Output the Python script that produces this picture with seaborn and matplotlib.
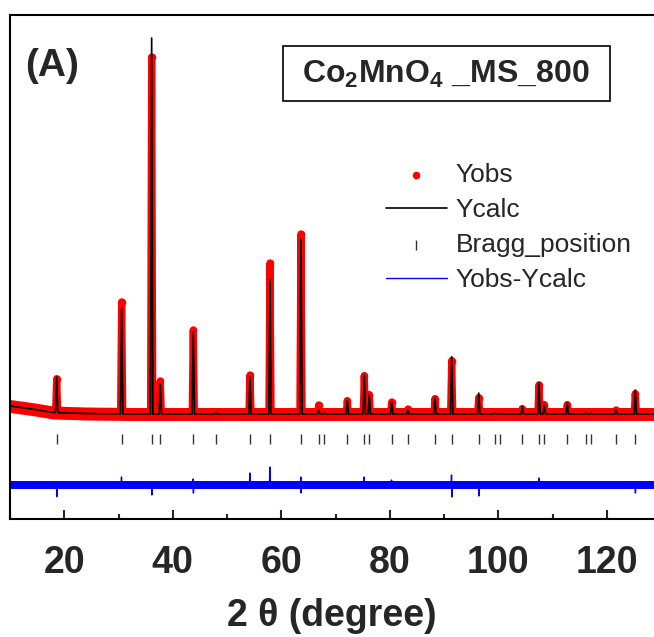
import numpy as np
import pandas as pd
import matplotlib
matplotlib.use("Agg")
import matplotlib.pyplot as plt
from matplotlib.patches import Rectangle
from matplotlib.ticker import MultipleLocator
import seaborn as sns

# Bragg reflections of Co2MnO4 (2 theta, degree)
bragg_pos = [18.60, 30.58, 36.11, 37.70, 43.78, 47.96, 54.23, 57.92, 63.63, 66.89,
             67.93, 72.17, 75.30, 76.22, 80.35, 83.35, 88.33, 91.41, 96.39, 99.34,
             100.26, 104.42, 107.50, 108.48, 112.72, 116.11, 117.14, 121.70, 125.25]
# peak heights above background (counts)
ycalc_peak = [714, 2114, 7520, 600, 1646, 26, 746, 2680, 3494, 80,
              20, 280, 780, 380, 246, 80, 320, 1146, 420, 20,
              20, 146, 620, 180, 220, 20, 20, 80, 480]
yobs_peak = [680, 2240, 7140, 660, 1680, 40, 780, 3020, 3600, 180,
             20, 270, 770, 390, 240, 100, 310, 1070, 330, 20,
             20, 110, 584, 190, 190, 20, 20, 80, 410]

# background
bg_x = [10, 14, 18, 24, 32, 130]
bg_y = [160, 100, 30, 10, 0, 0]
obs_noise = 130

# difference curve spikes
diff_pos = [18.60, 30.58, 36.11, 43.78, 54.23, 57.92, 63.63, 75.30, 80.35, 91.41,
            96.39, 107.50, 125.25]
diff_up = [0, 160, 0, 120, 240, 360, 160, 160, 100, 200, 0, 140, 0]
diff_down = [-234, 0, -200, -160, 0, 0, -160, 0, 0, -240, -220, 0, -160]
diff_offset = -1420
diff_noise = 150
bragg_level = -490

sns.set_theme(style="ticks")
plt.rcParams["font.family"] = ["Liberation Sans", "DejaVu Sans"]
plt.rcParams["mathtext.fontset"] = "custom"
plt.rcParams["mathtext.rm"] = "Liberation Sans"
plt.rcParams["mathtext.bf"] = "Liberation Sans:bold"


def profile(peaks, half):
    xs = list(bg_x)
    ys = list(bg_y)
    for p, h in zip(bragg_pos, peaks):
        for dx, f in [(-half, 0), (0, 1), (half, 0)]:
            xs.append(p + dx)
            ys.append(np.interp(p + dx, bg_x, bg_y) + f * h)
    order = np.argsort(xs)
    return np.array(xs)[order], np.array(ys)[order]


calc_x, calc_y = profile(ycalc_peak, 0.22)
obs_x, obs_y = profile(yobs_peak, 0.2)

dx_list = [10.0]
dy_list = [0.0]
for p, u, d in zip(diff_pos, diff_up, diff_down):
    dx_list += [p - 0.1, p - 0.03, p + 0.03, p + 0.1]
    dy_list += [0, u, d, 0]
dx_list.append(130.0)
dy_list.append(0.0)
diff_df = pd.DataFrame({"x": dx_list, "y": np.array(dy_list) + diff_offset})

fig = plt.figure(figsize=(6.54, 6.37), dpi=100)
ax = fig.add_axes([10 / 654, 1 - 519 / 637, 644 / 654, 504 / 637])

# observed: scatter band + thick red trace
ax.fill_between(bg_x, np.array(bg_y) - obs_noise, np.array(bg_y) + obs_noise,
                color="red", lw=0, zorder=1)
ax.plot(obs_x, obs_y, color="red", lw=5.2, solid_capstyle="round",
        solid_joinstyle="round", zorder=2)
sns.scatterplot(x=obs_x, y=obs_y, color="red", s=30, linewidth=0, ax=ax,
                label="Yobs", zorder=2)
sns.lineplot(x=calc_x, y=calc_y, color="black", lw=1.2, sort=False,
             estimator=None, ax=ax, label="Ycalc", zorder=3)
sns.scatterplot(x=bragg_pos, y=[bragg_level] * len(bragg_pos), marker="|",
                color="#333333", s=45, linewidth=1.0, ax=ax,
                label="Bragg_position", zorder=3)
ax.fill_between(diff_df["x"], diff_offset - diff_noise / 2, diff_offset + diff_noise / 2,
                color="blue", lw=0, zorder=1)
sns.lineplot(data=diff_df, x="x", y="y", color="blue", lw=1.0, sort=False,
             estimator=None, ax=ax, label="Yobs-Ycalc", zorder=2)

ax.set_xlim(10, 128.7)
ax.set_ylim(-2100, 7980)
ax.set_yticks([])
ax.set_ylabel("")
ax.xaxis.set_major_locator(MultipleLocator(20))
ax.xaxis.set_minor_locator(MultipleLocator(10))
ax.tick_params(axis="x", which="major", direction="in", length=6.5, width=1.5,
               labelsize=27, pad=19)
ax.tick_params(axis="x", which="minor", direction="in", length=3.5, width=1.5)
for lab in ax.get_xticklabels():
    lab.set_fontweight("bold")
    lab.set_family(["Liberation Sans Narrow", "Liberation Sans"])
for s in ["left", "bottom", "top"]:
    ax.spines[s].set_linewidth(1.5)
    ax.spines[s].set_color("black")
ax.spines["right"].set_visible(False)
ax.set_xlabel("2 θ (degree)", fontsize=27, fontweight="bold", labelpad=12)

leg = ax.legend(loc="upper left", bbox_to_anchor=(386 / 654, 1 - 163 / 637),
                bbox_transform=fig.transFigure, frameon=False, fontsize=19,
                handlelength=2.3, handletextpad=0.35, labelspacing=0.42,
                borderpad=0, borderaxespad=0)

fig.text(25 / 654, 1 - 66 / 637, "(A)", fontsize=28, fontweight="bold",
         va="center", ha="left")
fig.patches.append(Rectangle((283 / 654, 1 - 101 / 637), 327 / 654, 55 / 637,
                             transform=fig.transFigure, fill=False,
                             ec="black", lw=1.2))
fig.text(446 / 654, 1 - 74 / 637, r"$\mathbf{Co_2MnO_4}$ _MS_800", fontsize=23,
         fontweight="bold", ha="center", va="center")

fig.savefig("out.png", dpi=100)
